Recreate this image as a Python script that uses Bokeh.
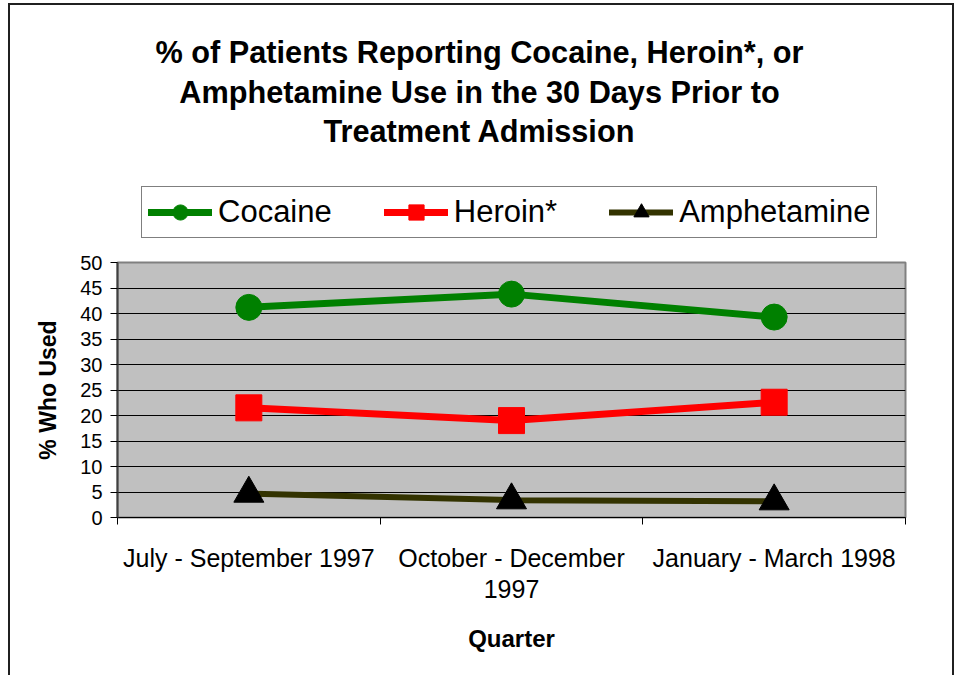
from bokeh.plotting import figure
from bokeh.layouts import column
from bokeh.models import Range1d, FixedTicker, Legend, LegendItem, Label
from bokeh.embed import file_html
from bokeh.resources import INLINE

# ---- data ----
quarters = ["July - September 1997", "October - December\n1997", "January - March 1998"]
cocaine = [41.2, 43.8, 39.3]
heroin = [21.5, 19.0, 22.6]
amphetamine = [4.7, 3.4, 3.2]
y_ticks = [0, 5, 10, 15, 20, 25, 30, 35, 40, 45, 50]
title_lines = [
    "% of Patients Reporting Cocaine, Heroin*, or",
    "Amphetamine Use in the 30 Days Prior to",
    "Treatment Admission",
]

FONT = "Liberation Sans"

x_pos = [i + 0.5 for i in range(len(quarters))]
boundaries = [i for i in range(len(quarters) + 1)]

# layout (picture pixels)
W = 958
TOP_H = 240               # header strip (titles + legend)
FL, FR, FT, FB = 117, 905, 262, 517
CH_H = 675 - TOP_H        # chart figure height

series_style = [
    dict(name="Cocaine", y=cocaine, color="#008000", width=7, marker="circle", msize=26, mcolor="#008000"),
    dict(name="Heroin*", y=heroin, color="#FF0000", width=7, marker="square", msize=26, mcolor="#FF0000"),
    dict(name="Amphetamine", y=amphetamine, color="#333300", width=6, marker="triangle", msize=30, mcolor="#000000"),
]

# ---------------- chart ----------------
p = figure(
    width=W, height=CH_H,
    x_range=Range1d(0, len(quarters)), y_range=Range1d(0, 50),
    output_backend="svg", toolbar_location=None,
    min_border_left=FL, min_border_right=W - FR,
    min_border_top=FT - TOP_H, min_border_bottom=CH_H - (FB - TOP_H),
)
p.border_fill_color = None
p.background_fill_color = "#C0C0C0"
p.outline_line_color = "#808080"
p.outline_line_width = 2

p.xgrid.visible = False
p.ygrid.grid_line_color = "#000000"
p.ygrid.grid_line_width = 1

p.yaxis.ticker = FixedTicker(ticks=y_ticks)
p.yaxis.major_tick_out = 7
p.yaxis.major_tick_in = 0
p.yaxis.minor_tick_out = 0
p.yaxis.minor_tick_in = 0
p.yaxis.major_tick_line_color = "#000000"
p.yaxis.axis_line_color = "#404040"
p.yaxis.axis_line_width = 2
p.yaxis.major_label_text_font = FONT
p.yaxis.major_label_text_font_size = "20px"
p.yaxis.major_label_text_color = "#000000"
p.yaxis.major_label_standoff = 8
p.yaxis.axis_label = "% Who Used"
p.yaxis.axis_label_text_font = FONT
p.yaxis.axis_label_text_font_size = "23px"
p.yaxis.axis_label_text_font_style = "bold"
p.yaxis.axis_label_text_color = "#000000"
p.yaxis.axis_label_standoff = 16

p.xaxis.ticker = FixedTicker(ticks=x_pos, minor_ticks=boundaries)
p.xaxis.major_label_overrides = {x: q for x, q in zip(x_pos, quarters)}
p.xaxis.major_tick_out = 0
p.xaxis.major_tick_in = 0
p.xaxis.minor_tick_out = 7
p.xaxis.minor_tick_in = 0
p.xaxis.minor_tick_line_color = "#000000"
p.xaxis.axis_line_color = "#000000"
p.xaxis.axis_line_width = 1
p.xaxis.major_label_text_font = FONT
p.xaxis.major_label_text_font_size = "25px"
p.xaxis.major_label_text_color = "#000000"
p.xaxis.major_label_standoff = 19
p.xaxis.major_label_text_line_height = 1.12
p.xaxis.axis_label = "Quarter"
p.xaxis.axis_label_text_font = FONT
p.xaxis.axis_label_text_font_size = "24px"
p.xaxis.axis_label_text_font_style = "bold"
p.xaxis.axis_label_text_color = "#000000"
p.xaxis.axis_label_standoff = 19

for s in series_style:
    p.line(x_pos, s["y"], line_color=s["color"], line_width=s["width"], line_cap="round")
    p.scatter(x_pos, s["y"], marker=s["marker"], size=s["msize"],
              fill_color=s["mcolor"], line_color=s["mcolor"])

# ---------------- header: title + legend ----------------
# (the column aligns this header's frame with the chart frame: x spans FL..FR)
t = figure(
    width=W, height=TOP_H,
    x_range=Range1d(FL, FR), y_range=Range1d(TOP_H, 0),
    x_axis_type=None, y_axis_type=None,
    output_backend="svg", toolbar_location=None, min_border=0,
)
t.border_fill_color = None
t.background_fill_color = None
t.outline_line_color = None
t.xgrid.visible = False
t.ygrid.visible = False

title_y = [52, 92, 131]
for txt, ty in zip(title_lines, title_y):
    t.add_layout(Label(
        x=479, y=ty, text=txt,
        text_align="center", text_baseline="middle",
        text_font=FONT, text_font_size="30.7px", text_font_style="bold",
        text_color="#000000",
    ))

# legend entries mirror the chart's series styling
items = []
for s in series_style:
    lr = t.line(x_pos, s["y"], line_color=s["color"], line_width=s["width"], line_cap="round", visible=False)
    mr = t.scatter(x_pos, s["y"], marker=s["marker"], size=s["msize"],
                   fill_color=s["mcolor"], line_color=s["mcolor"], visible=False)
    items.append(LegendItem(label=s["name"], renderers=[lr, mr]))

legend = Legend(
    items=items,
    orientation="horizontal",
    location=(141 - FL, TOP_H - 238),
    label_text_font=FONT,
    label_text_font_size="31px",
    label_text_color="#000000",
    glyph_width=64,
    glyph_height=38,
    label_standoff=6,
    spacing=52,
    padding=6,
    margin=0,
    border_line_color="#000000",
    border_line_width=1,
    background_fill_color="#FFFFFF",
    background_fill_alpha=1.0,
    inactive_fill_alpha=0.0,
)
t.add_layout(legend)

layout = column(t, p, spacing=0)
layout.styles = {
    "background": (
        "linear-gradient(#202020,#202020) 8px 3px / 2px 100% no-repeat, "
        "linear-gradient(#202020,#202020) 8px 3px / 946px 2px no-repeat, "
        "linear-gradient(#202020,#202020) 952px 3px / 2px 100% no-repeat"
    )
}

open("out.html", "w").write(file_html(layout, INLINE))
